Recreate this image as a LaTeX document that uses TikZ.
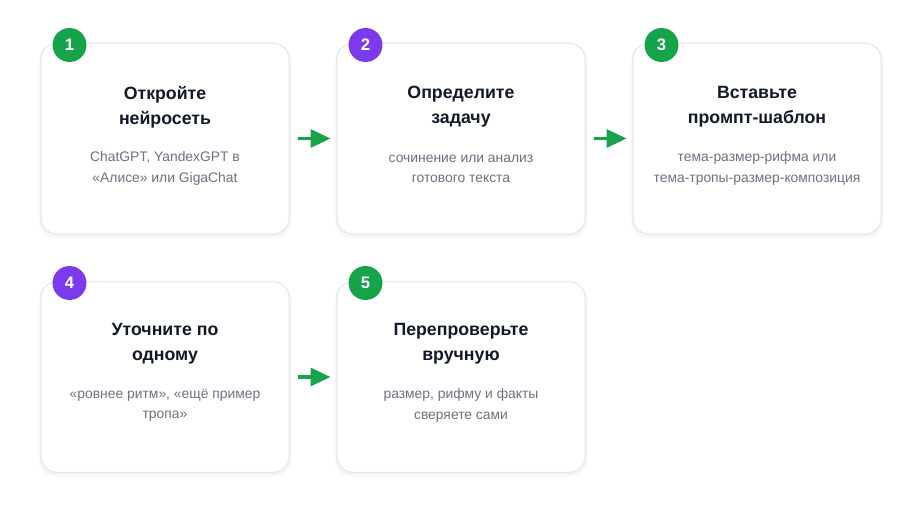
\documentclass[tikz,border=0pt]{standalone}
\usepackage{fontspec}
\setmainfont{Liberation Sans}
\usetikzlibrary{arrows.meta}
\definecolor{cardborder}{HTML}{E5E7EB}
\definecolor{titlecol}{HTML}{111827}
\definecolor{subcol}{HTML}{6B7280}
\definecolor{greenb}{HTML}{16A34A}
\definecolor{purpleb}{HTML}{7C3AED}
\begin{document}
\begin{tikzpicture}[x=0.75pt,y=-0.75pt,
  card/.style={draw=cardborder,line width=0.75pt,fill=white,rounded corners=12pt,minimum width=186pt,minimum height=143pt,inner sep=0pt},
  badge/.style={circle,minimum size=25.5pt,inner sep=0pt,text=white,font=\fontsize{12.5}{14}\selectfont\bfseries},
  ttl/.style={align=center,text=titlecol,font=\fontsize{13.3}{18.6}\selectfont\bfseries},
  sub/.style={align=center,text=subcol,font=\fontsize{10.4}{15.2}\selectfont},
  flow/.style={draw=greenb,line width=2.4pt,-{Triangle[length=15pt,width=13.5pt]},shorten <=6pt,shorten >=4.5pt}
]
\useasboundingbox[fill=white] (0,0) rectangle (922,516);
% shadows
\foreach \cx/\cy in {165/138.5,461/138.5,757/138.5,165/377,461/377}{
  \fill[black,opacity=0.025,rounded corners=13pt] (\cx-127,\cy-94) rectangle (\cx+127,\cy+100);
  \fill[black,opacity=0.025,rounded corners=12.5pt] (\cx-125.5,\cy-95) rectangle (\cx+125.5,\cy+98);
}
\node[card] (c1) at (165,138.5) {};
\node[card] (c2) at (461,138.5) {};
\node[card] (c3) at (757,138.5) {};
\node[card] (c4) at (165,377) {};
\node[card] (c5) at (461,377) {};

\node[badge,fill=greenb] (b1) at (69.5,45) {1};
\node[badge,fill=purpleb] (b2) at (365.5,45) {2};
\node[badge,fill=greenb] (b3) at (661.5,45) {3};
\node[badge,fill=purpleb] (b4) at (69.5,283) {4};
\node[badge,fill=greenb] (b5) at (365.5,283) {5};

\node[ttl] (t1) at (165,107) {Откройте\\нейросеть};
\node[ttl] (t2) at (461,107) {Определите\\задачу};
\node[ttl] (t3) at (757,107) {Вставьте\\промпт-шаблон};
\node[ttl] (t4) at (165,344) {Уточните по\\одному};
\node[ttl] (t5) at (461,344) {Перепроверьте\\вручную};

\node[sub] (s1) at (165,168.5) {ChatGPT, YandexGPT в\\«Алисе» или GigaChat};
\node[sub] (s2) at (461,168.5) {сочинение или анализ\\готового текста};
\node[sub] (s3) at (757,168.5) {тема-размер-рифма или\\тема-тропы-размер-композиция};
\node[sub] (s4) at (165,405.5) {«ровнее ритм», «ещё пример\\тропа»};
\node[sub] (s5) at (461,405.5) {размер, рифму и факты\\сверяете сами};

\draw[flow] (c1.east) -- (c2.west);
\draw[flow] (c2.east) -- (c3.west);
\draw[flow] (c4.east) -- (c5.west);
\end{tikzpicture}
\end{document}
